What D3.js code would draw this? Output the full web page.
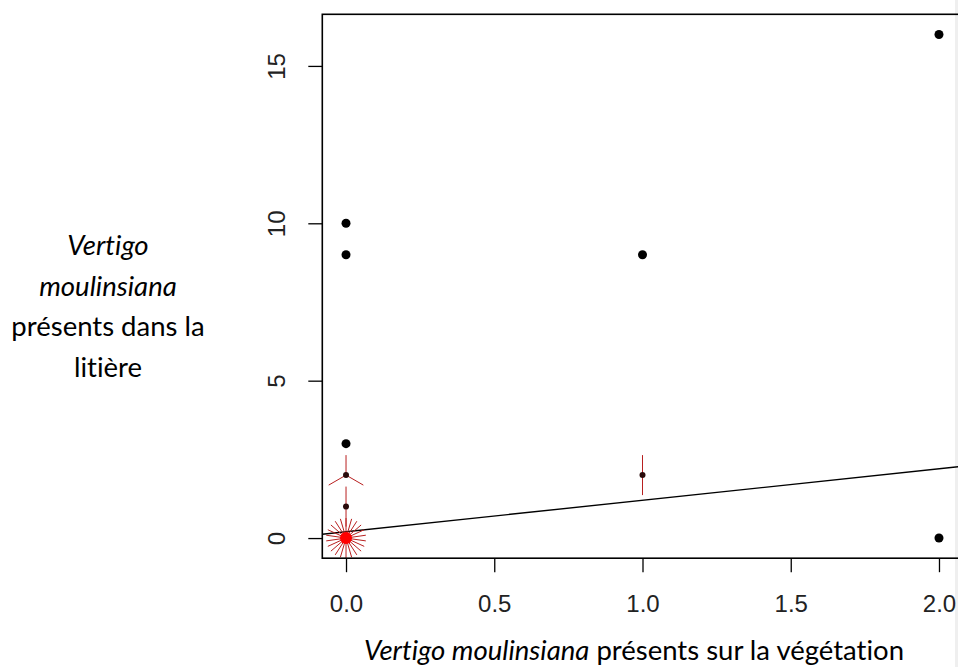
<!DOCTYPE html>
<meta charset="utf-8">
<style>
body { margin: 0; background: #fff; }

.tick text { font: 24px "Liberation Sans", Arial, sans-serif; fill: #222; }
.tick line { stroke: #000; stroke-width: 1.3px; }

.title { font-family: Lato, "Open Sans", sans-serif; font-size: 27.5px; fill: #000;
         font-variant-ligatures: none; font-feature-settings: "liga" 0; }

.box { fill: none; stroke: #000; stroke-width: 1.6px; }

.fit { stroke: #000; stroke-width: 1.4px; }

.petal { stroke: #b82020; stroke-width: 1px; }
</style>

<body>

<script src="https://cdnjs.cloudflare.com/ajax/libs/d3/7.8.5/d3.min.js"></script>
<script>

// single observations (x = snails on vegetation, y = snails in litter)
var singleX = [0, 0, 0, 1, 2, 2];
var singleY = [3, 9, 10, 9, 0, 16];

// repeated observations drawn as sunflowers (one petal per observation)
var flowerX = [0, 0, 0, 1];
var flowerY = [0, 1, 2, 2];
var flowerN = [22, 2, 3, 2];

// fitted line y = a + b x
var fitIntercept = 0.2;
var fitSlope = 1.0;

var xTicks = [0, 0.5, 1, 1.5, 2];
var yTicks = [0, 5, 10, 15];

var width = 958,
    height = 667;

// plot region (R pads the data range by 4 %)
var x = d3.scaleLinear()
    .domain([-0.08, 2.08])
    .range([322.3, 962.7]);

var y = d3.scaleLinear()
    .domain([-0.64, 16.64])
    .range([558.2, 14.3]);

var svg = d3.select("body").append("svg")
    .attr("width", width)
    .attr("height", height);

// thin grey strip on the right edge of the scan
svg.append("rect")
    .attr("x", 955).attr("y", 0)
    .attr("width", 3).attr("height", height)
    .attr("fill", "#efefef");

// axes
var xAxis = svg.append("g")
    .attr("transform", "translate(0," + y.range()[0] + ")")
    .call(d3.axisBottom(x)
        .tickValues(xTicks)
        .tickFormat(d3.format(".1f"))
        .tickSize(14)
        .tickPadding(23));
xAxis.select(".domain").remove();

var yAxis = svg.append("g")
    .attr("transform", "translate(" + x.range()[0] + ",0)")
    .call(d3.axisLeft(y)
        .tickValues(yTicks)
        .tickSize(14));
yAxis.select(".domain").remove();
yAxis.selectAll(".tick text")
    .attr("transform", "rotate(-90)")
    .attr("text-anchor", "middle")
    .attr("x", 0)
    .attr("y", -37)
    .attr("dy", null);

// clip everything to the plot box
svg.append("clipPath")
    .attr("id", "plot")
  .append("rect")
    .attr("x", x.range()[0])
    .attr("y", y.range()[1])
    .attr("width", x.range()[1] - x.range()[0])
    .attr("height", y.range()[0] - y.range()[1]);

var g = svg.append("g").attr("clip-path", "url(#plot)");

// regression line across the whole plot
var xd = x.domain();
g.append("line")
    .attr("class", "fit")
    .attr("x1", x(xd[0]))
    .attr("y1", y(fitIntercept + fitSlope * xd[0]))
    .attr("x2", x(xd[1]))
    .attr("y2", y(fitIntercept + fitSlope * xd[1]));

// sunflower petals, 20px long, angle 2*pi*k/n measured from the vertical
var petalLen = 20;
var petals = [];
flowerX.forEach(function(fx, i) {
    for (var k = 1; k <= flowerN[i]; k++) {
        petals.push({x: fx, y: flowerY[i], a: 2 * Math.PI * k / flowerN[i]});
    }
});

g.selectAll(".petal")
    .data(petals)
  .enter().append("line")
    .attr("class", "petal")
    .attr("x1", d => x(d.x))
    .attr("y1", d => y(d.y))
    .attr("x2", d => x(d.x) + petalLen * Math.sin(d.a))
    .attr("y2", d => y(d.y) - petalLen * Math.cos(d.a));

// sunflower centres (the big cluster is drawn in red)
g.selectAll(".centre")
    .data(flowerX.map((fx, i) => ({x: fx, y: flowerY[i], n: flowerN[i]})))
  .enter().append("circle")
    .attr("class", "centre")
    .attr("cx", d => x(d.x))
    .attr("cy", d => y(d.y))
    .attr("r", d => d.n > 10 ? 6 : 3)
    .attr("fill", d => d.n > 10 ? "#f00" : "#2a0a0a");

// single points
g.selectAll(".pt")
    .data(singleX.map((sx, i) => ({x: sx, y: singleY[i]})))
  .enter().append("circle")
    .attr("class", "pt")
    .attr("cx", d => x(d.x))
    .attr("cy", d => y(d.y))
    .attr("r", 4.5)
    .attr("fill", "#000");

// plot box
svg.append("rect")
    .attr("class", "box")
    .attr("x", x.range()[0])
    .attr("y", y.range()[1])
    .attr("width", x.range()[1] - x.range()[0])
    .attr("height", y.range()[0] - y.range()[1]);

// x title
var xt = svg.append("text")
    .attr("class", "title")
    .attr("x", 634)
    .attr("y", 660)
    .attr("text-anchor", "middle");
xt.append("tspan").attr("font-style", "italic").text("Vertigo moulinsiana");
xt.append("tspan").text(" présents sur la végétation");

// y title, four centred lines
var yLines = [
    {t: "Vertigo", it: true},
    {t: "moulinsiana", it: true},
    {t: "présents dans la", it: false},
    {t: "litière", it: false}
];
svg.selectAll(".ytitle")
    .data(yLines)
  .enter().append("text")
    .attr("class", "title ytitle")
    .attr("x", 108)
    .attr("y", (d, i) => 255 + i * 40.7)
    .attr("text-anchor", "middle")
    .attr("font-style", d => d.it ? "italic" : null)
    .text(d => d.t);

</script>
</body>
